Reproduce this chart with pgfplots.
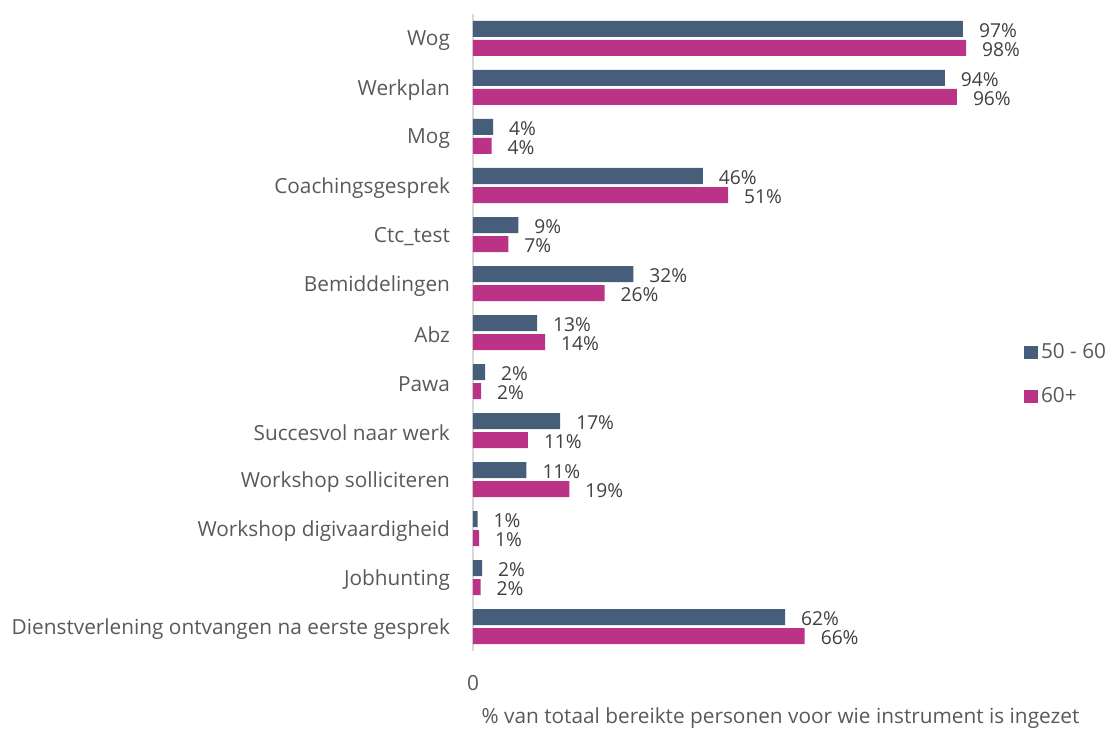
\documentclass[border=0pt]{standalone}
\usepackage{fontspec}
\setmainfont{Open Sans}
\usepackage{pgfplots}
\pgfplotsset{compat=1.18}
\definecolor{cblue}{HTML}{465E7A}
\definecolor{cmag}{HTML}{BA3387}
\definecolor{txt}{HTML}{595959}
\definecolor{lbl}{HTML}{404040}
\begin{document}
\begin{tikzpicture}
\useasboundingbox (-236.5pt,-39pt) rectangle (319pt,325.5pt);
\begin{axis}[
  at={(0,0)}, anchor=south west,
  scale only axis, width=307.5pt, height=318.5pt,
  xbar, bar width=8pt,
  xmin=0, xmax=122, ymin=-0.5, ymax=12.5,
  ytick={0,...,12},
  yticklabels={Dienstverlening ontvangen na eerste gesprek, Jobhunting, Workshop digivaardigheid, Workshop solliciteren, Succesvol naar werk, Pawa, Abz, Bemiddelingen, Ctc\_test, Coachingsgesprek, Mog, Werkplan, Wog},
  xtick={0}, xticklabels={0},
  major tick length=0pt,
  axis x line*=bottom, axis y line*=left,
  x axis line style={draw=none},
  y axis line style={draw=black!15, line width=0.8pt},
  yticklabel style={font=\fontsize{10.4}{12}\selectfont, text=txt, xshift=-8pt, yshift=-1.2pt},
  xticklabel style={font=\fontsize{10.4}{12}\selectfont, text=txt, yshift=-8.5pt},
  xlabel={\% van totaal bereikte personen voor wie instrument is ingezet},
  xlabel style={at={(rel axis cs:0.5,0)}, anchor=center, yshift=-33.5pt, font=\fontsize{10.4}{12}\selectfont, text=txt},
  clip=false,
  point meta=x,
  nodes near coords={\pgfmathprintnumber[fixed,precision=0,assume math mode=true]{\pgfplotspointmeta}\%},
  every node near coord/.append style={anchor=west, font=\fontsize{9.6}{11}\selectfont, text=lbl, xshift=4.5pt, yshift=-0.8pt},
  legend cell align=left,
  legend style={at={(rel axis cs:0.896,0.488)}, anchor=north west, draw=none, fill=none, inner sep=0pt, font=\fontsize{10.4}{12}\selectfont, text=txt, row sep=10pt, nodes={inner sep=1.5pt}},
  legend image code/.code={\fill[#1] (0pt,-3.4pt) rectangle (6.8pt,3.4pt);},
  every legend image post/.append style={xshift=-1pt},
]
\addplot[fill=cblue, draw=none, bar shift=4.75pt] coordinates {
(61.9,0) (1.8,1) (0.9,2) (10.6,3) (17.3,4) (2.4,5) (12.7,6) (31.8,7) (9.0,8) (45.6,9) (4.0,10) (93.6,11) (97.2,12)};
\addplot[fill=cmag, draw=none, bar shift=-4.75pt] coordinates {
(65.8,0) (1.5,1) (1.2,2) (19.1,3) (10.9,4) (1.6,5) (14.3,6) (26.1,7) (7.0,8) (50.6,9) (3.7,10) (96.0,11) (97.8,12)};
\legend{50 - 60, 60+}
\end{axis}
\end{tikzpicture}
\end{document}
